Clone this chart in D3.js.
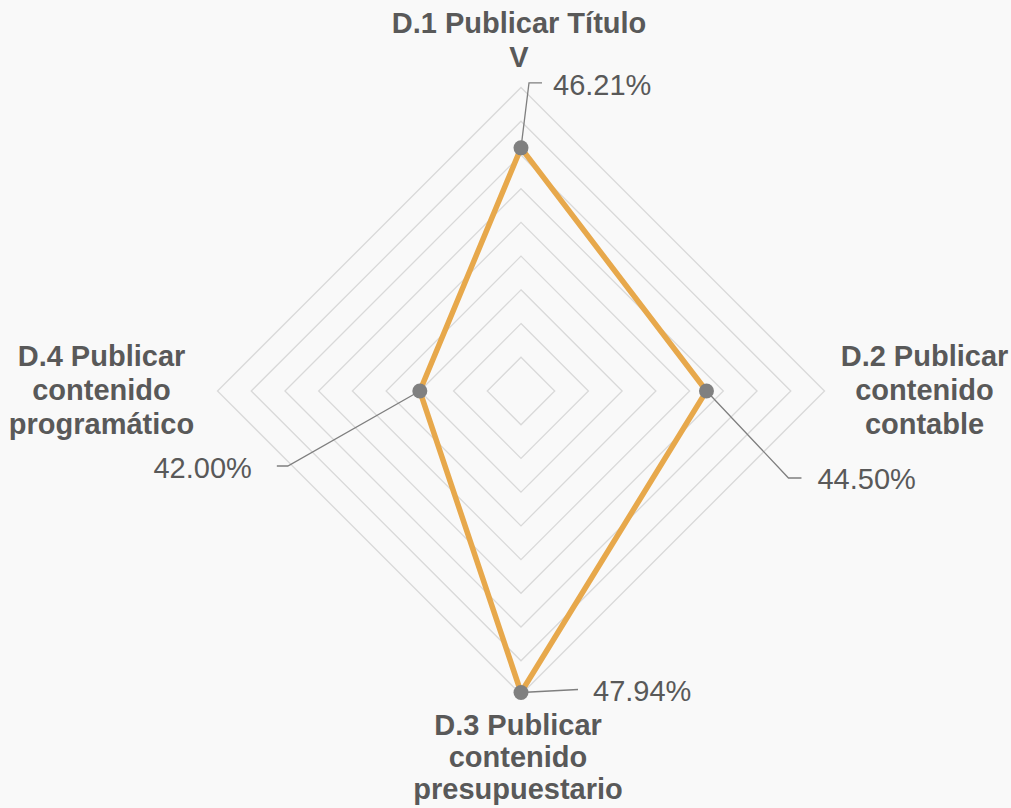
<!DOCTYPE html>
<html lang="es">
<head>
  <meta charset="UTF-8">
  <title>Radar</title>
  <style>
    html, body { margin: 0; padding: 0; background: #f9f9f9; }
    svg { display: block; font-family: "Liberation Sans", Arial, sans-serif; }
    .grid { fill: none; stroke: #d9d9d9; stroke-width: 1.3px; }
    .series { fill: none; stroke: #e7a84b; stroke-width: 5.5px; stroke-linejoin: miter; }
    .dot { fill: #808080; }
    .leader { fill: none; stroke: #7f7f7f; stroke-width: 1.3px; }
    .cat { font-size: 29px; font-weight: bold; fill: #595959; }
    .val { font-size: 29px; fill: #595959; }
  </style>
</head>
<body>
<div id="chart"></div>
<script src="https://d3js.org/d3.v7.min.js"></script>
<script>
  // categories and values (percent)
  const categories = [
    ["D.1 Publicar Título", "V"],
    ["D.2 Publicar", "contenido", "contable"],
    ["D.3 Publicar", "contenido", "presupuestario"],
    ["D.4 Publicar", "contenido", "programático"]
  ];
  const values = [46.21, 44.50, 47.94, 42.00];
  const axisMin = 39, axisMax = 48, axisStep = 1;

  const width = 1011, height = 808;
  const cx = 521, cy = 391, R = 303.5;

  // label layout: category block anchor (relative to outer vertex) and leader/value offsets (relative to dot)
  const catLayout = [
    {dx: -2, dy: -55, lh: 34},
    {dx: 100, dy: -25, lh: 34},
    {dx: -3, dy: 40, lh: 32},
    {dx: -116, dy: -25, lh: 34}
  ];
  const valLayout = [
    {elbow: [8, -65], end: [21, -65], text: [32, -53], anchor: "start"},
    {elbow: [82, 87], end: [95, 87], text: [111, 98], anchor: "start"},
    {elbow: [57, -3], end: [57, -3], text: [72, 9], anchor: "start"},
    {elbow: [-132, 75], end: [-143, 75], text: [-168, 87], anchor: "end"}
  ];

  const svg = d3.select("#chart").append("svg")
    .attr("width", width)
    .attr("height", height);

  const g = svg.append("g").attr("transform", `translate(${cx},${cy})`);

  const r = d3.scaleLinear().domain([axisMin, axisMax]).range([0, R]);
  const angle = d3.scalePoint().domain(d3.range(categories.length)).range([0, 2 * Math.PI * (categories.length - 1) / categories.length]);

  const pt = (i, rad) => [rad * Math.sin(angle(i)), -rad * Math.cos(angle(i))];

  // grid rings
  const ticks = d3.range(axisMin + axisStep, axisMax + axisStep / 2, axisStep);
  g.selectAll(".grid")
    .data(ticks)
    .enter().append("path")
    .attr("class", "grid")
    .attr("d", t => d3.line()(categories.map((c, i) => pt(i, r(t)))) + "Z");

  // series
  const pts = values.map((v, i) => pt(i, r(v)));
  g.append("path")
    .attr("class", "series")
    .attr("d", d3.line()(pts) + "Z");

  // leaders
  g.selectAll(".leader")
    .data(pts)
    .enter().append("path")
    .attr("class", "leader")
    .attr("d", (p, i) => {
      const L = valLayout[i];
      return d3.line()([p, [p[0] + L.elbow[0], p[1] + L.elbow[1]], [p[0] + L.end[0], p[1] + L.end[1]]]);
    });

  g.selectAll(".dot")
    .data(pts)
    .enter().append("circle")
    .attr("class", "dot")
    .attr("cx", p => p[0])
    .attr("cy", p => p[1])
    .attr("r", 7.5);

  // value labels
  g.selectAll(".val")
    .data(values)
    .enter().append("text")
    .attr("class", "val")
    .attr("x", (v, i) => pts[i][0] + valLayout[i].text[0])
    .attr("y", (v, i) => pts[i][1] + valLayout[i].text[1])
    .attr("text-anchor", (v, i) => valLayout[i].anchor)
    .text(v => v.toFixed(2) + "%");

  // category labels
  categories.forEach((lines, i) => {
    const o = pt(i, R);
    const L = catLayout[i];
    const t = g.append("text")
      .attr("class", "cat")
      .attr("text-anchor", "middle");
    lines.forEach((s, j) => {
      t.append("tspan")
        .attr("x", o[0] + L.dx)
        .attr("y", o[1] + L.dy + j * L.lh)
        .text(s);
    });
  });
</script>
</body>
</html>
